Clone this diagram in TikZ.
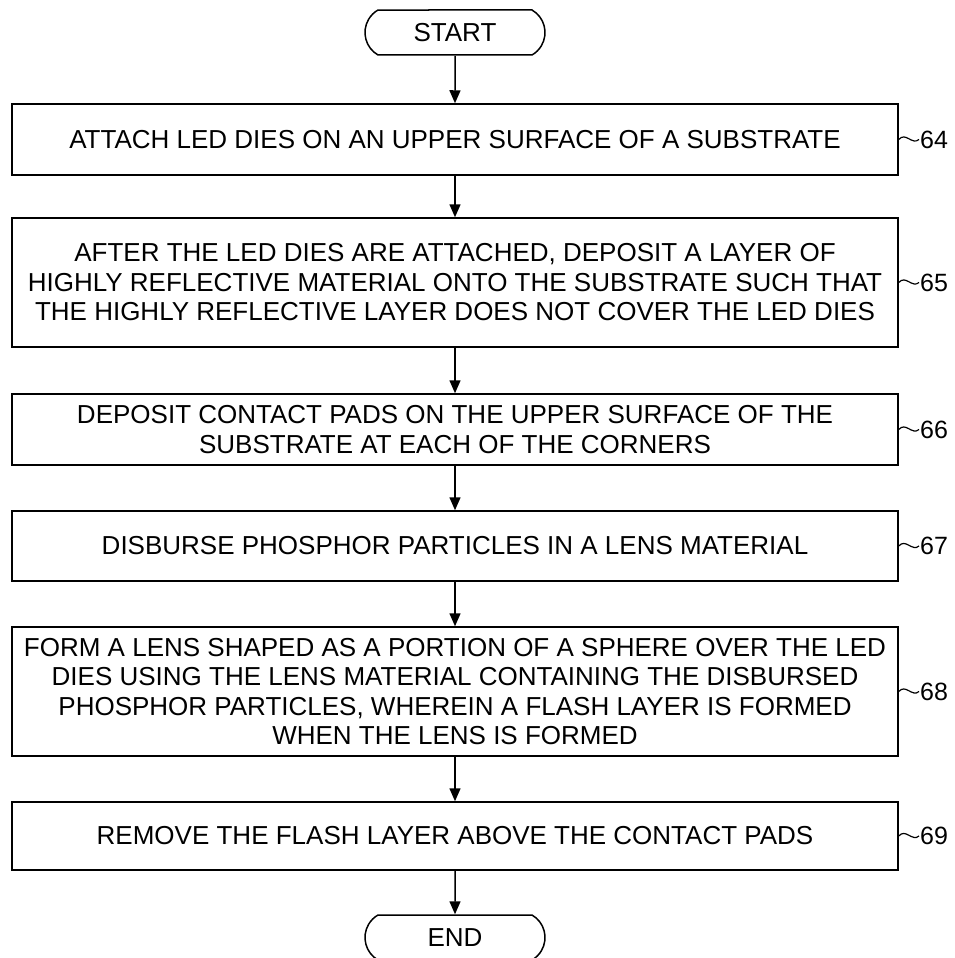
\documentclass[tikz,border=0pt]{standalone}
\usepackage{fontspec}
\setmainfont{Liberation Sans}
\usetikzlibrary{arrows.meta,shapes.misc}
\begin{document}
\begin{tikzpicture}[x=1pt,y=-1pt,
  box/.style={draw,line width=1.5pt,minimum width=886pt,align=center,
    font=\fontsize{26}{29.5}\selectfont,inner sep=0pt},
  term/.style={draw,line width=1.5pt,rounded rectangle,rounded rectangle arc length=120,
    minimum width=180pt,minimum height=45pt,inner sep=0pt,font=\fontsize{26}{29}\selectfont},
  lab/.style={font=\fontsize{25}{28}\selectfont,anchor=west,inner sep=1pt},
  arr/.style={line width=1.5pt,-{Triangle[length=13pt,width=11pt]}},
  squig/.style={line width=1.2pt}]
\useasboundingbox (0,0) rectangle (954,958);

\node[term] (start) at (455,32.5) {START};
\node[box,minimum height=71pt] (b64) at (455,139.5) {ATTACH LED DIES ON AN UPPER SURFACE OF A SUBSTRATE};
\node[box,minimum height=129pt] (b65) at (455,282.5) {AFTER THE LED DIES ARE ATTACHED, DEPOSIT A LAYER OF\\HIGHLY REFLECTIVE MATERIAL ONTO THE SUBSTRATE SUCH THAT\\THE HIGHLY REFLECTIVE LAYER DOES NOT COVER THE LED DIES};
\node[box,minimum height=71pt] (b66) at (455,429.5) {DEPOSIT CONTACT PADS ON THE UPPER SURFACE OF THE\\SUBSTRATE AT EACH OF THE CORNERS};
\node[box,minimum height=70pt] (b67) at (455,546) {DISBURSE PHOSPHOR PARTICLES IN A LENS MATERIAL};
\node[box,minimum height=129pt] (b68) at (455,691.5) {FORM A LENS SHAPED AS A PORTION OF A SPHERE OVER THE LED\\DIES USING THE LENS MATERIAL CONTAINING THE DISBURSED\\PHOSPHOR PARTICLES, WHEREIN A FLASH LAYER IS FORMED\\WHEN THE LENS IS FORMED};
\node[box,minimum height=68pt] (b69) at (455,836) {REMOVE THE FLASH LAYER ABOVE THE CONTACT PADS};
\node[term] (end) at (455,937.5) {END};

\foreach \n/\y in {64/139.5,65/282.5,66/429.5,67/546,68/691.5,69/836}{
  \node[lab] (l\n) at (919,\y) {\n};
  \draw[squig] (b\n.east) .. controls +(7,-8) and +(-7,6) .. (l\n.west);
}

\draw[arr] (start) -- (b64);
\draw[arr] (b64) -- (b65);
\draw[arr] (b65) -- (b66);
\draw[arr] (b66) -- (b67);
\draw[arr] (b67) -- (b68);
\draw[arr] (b68) -- (b69);
\draw[arr] (b69) -- (end);
\end{tikzpicture}
\end{document}
